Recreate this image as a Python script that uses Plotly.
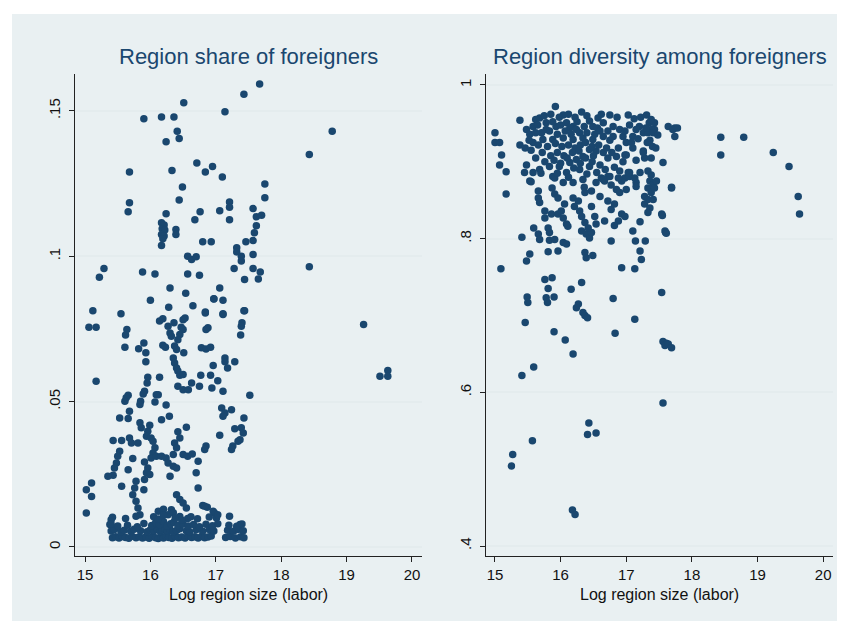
import plotly.graph_objects as go

# ---------------- data ----------------
x_ticks = [15, 16, 17, 18, 19, 20]
share_ticks = [0, 0.05, 0.1, 0.15]
share_tick_text = ["0", ".05", ".1", ".15"]
div_ticks = [0.4, 0.6, 0.8, 1.0]
div_tick_text = [".4", ".6", ".8", "1"]

title_left = "Region share of foreigners"
title_right = "Region diversity among foreigners"
x_title = "Log region size (labor)"

# Left panel: (log region size, share of foreigners)
share_points = [
    (16.51, 0.1528), (17.67, 0.1593), (17.43, 0.1557), (17.14, 0.1497), (15.90, 0.1473),
    (16.17, 0.1479), (16.36, 0.1479), (16.41, 0.1430), (16.44, 0.1405), (16.24, 0.1394),
    (16.71, 0.1321), (16.84, 0.1290), (16.95, 0.1309), (17.10, 0.1273), (15.68, 0.1290),
    (16.33, 0.1295), (16.49, 0.1238), (16.44, 0.1194), (15.68, 0.1184), (15.66, 0.1153),
    (16.24, 0.1146), (16.76, 0.1153), (16.68, 0.1126), (17.06, 0.1157), (17.21, 0.1187),
    (17.21, 0.1169), (17.21, 0.1126), (17.75, 0.1249), (17.75, 0.1201), (17.57, 0.1164),
    (17.62, 0.1136), (17.70, 0.1141), (17.62, 0.1105), (17.59, 0.1081), (17.57, 0.1054),
    (17.46, 0.1050), (16.17, 0.1115), (16.21, 0.1108), (16.18, 0.1095), (16.22, 0.1090),
    (16.17, 0.1075), (16.21, 0.1070), (16.19, 0.1060), (16.17, 0.1037), (16.39, 0.1092),
    (16.39, 0.1075), (16.80, 0.1050), (16.93, 0.1050), (17.32, 0.1029), (17.32, 0.1015),
    (17.39, 0.0984), (17.39, 0.1000), (17.57, 0.1006), (16.57, 0.1000), (16.63, 0.0989),
    (16.70, 0.0998), (17.28, 0.0958), (17.57, 0.0958), (17.65, 0.0922), (17.44, 0.0920),
    (15.29, 0.0958), (15.22, 0.0928), (15.88, 0.0946), (16.07, 0.0939), (16.57, 0.0939),
    (16.75, 0.0935), (16.30, 0.0891), (16.54, 0.0873), (17.06, 0.0891), (16.97, 0.0854),
    (17.11, 0.0849), (16.00, 0.0849), (15.12, 0.0813), (15.55, 0.0802), (16.28, 0.0825),
    (16.65, 0.0830), (16.84, 0.0808), (17.11, 0.0802), (17.44, 0.0813), (15.06, 0.0756),
    (15.17, 0.0756), (15.64, 0.0748), (15.62, 0.0729), (15.61, 0.0687), (15.82, 0.0682),
    (15.90, 0.0702), (15.93, 0.0668), (15.93, 0.0637), (16.14, 0.0777), (16.19, 0.0785),
    (16.27, 0.0759), (16.36, 0.0771), (16.30, 0.0736), (16.32, 0.0725), (16.50, 0.0782),
    (16.53, 0.0788), (16.47, 0.0756), (16.50, 0.0748), (16.45, 0.0731), (16.42, 0.0713),
    (16.19, 0.0694), (16.23, 0.0687), (16.37, 0.0691), (16.40, 0.0679), (16.51, 0.0668),
    (16.35, 0.0650), (16.37, 0.0633), (16.40, 0.0616), (16.42, 0.0605), (16.45, 0.0591),
    (16.50, 0.0593), (16.78, 0.0685), (16.85, 0.0681), (16.92, 0.0687), (16.88, 0.0754),
    (16.85, 0.0748), (16.84, 0.0805), (16.97, 0.0853), (17.11, 0.0800), (16.96, 0.0624),
    (17.14, 0.0650), (17.14, 0.0637), (17.18, 0.0616), (17.29, 0.0637), (17.43, 0.0813),
    (17.40, 0.0771), (17.39, 0.0759), (17.38, 0.0729), (15.17, 0.0570), (15.96, 0.0584),
    (16.14, 0.0584), (15.95, 0.0564), (15.91, 0.0536), (16.77, 0.0591), (16.92, 0.0591),
    (17.03, 0.0572), (16.75, 0.0553), (16.63, 0.0564), (16.42, 0.0553), (16.50, 0.0541),
    (16.58, 0.0541), (16.94, 0.0547), (17.11, 0.0536), (17.52, 0.0522), (15.66, 0.0522),
    (15.89, 0.0526), (16.12, 0.0524), (15.63, 0.0513), (15.61, 0.0501), (15.85, 0.0501),
    (15.84, 0.0490), (16.09, 0.0524), (16.07, 0.0499), (16.24, 0.0488), (15.68, 0.0467),
    (15.53, 0.0444), (15.66, 0.0442), (16.17, 0.0438), (16.29, 0.0450), (15.84, 0.0427),
    (15.86, 0.0410), (15.99, 0.0419), (15.96, 0.0398), (15.94, 0.0381), (16.01, 0.0375),
    (16.04, 0.0364), (15.43, 0.0366), (15.56, 0.0366), (15.68, 0.0375), (15.71, 0.0358),
    (15.81, 0.0358), (16.55, 0.0412), (16.42, 0.0396), (16.45, 0.0375), (16.37, 0.0358),
    (16.40, 0.0341), (16.35, 0.0318), (16.07, 0.0341), (16.04, 0.0323), (16.01, 0.0306),
    (16.09, 0.0312), (15.53, 0.0329), (15.50, 0.0312), (15.48, 0.0289), (15.45, 0.0272),
    (15.43, 0.0247), (15.35, 0.0243), (15.73, 0.0304), (15.66, 0.0266), (15.91, 0.0292),
    (15.96, 0.0272), (15.94, 0.0255), (15.99, 0.0249), (15.91, 0.0232), (15.90, 0.0197),
    (16.17, 0.0312), (16.24, 0.0306), (16.27, 0.0289), (16.35, 0.0278), (16.40, 0.0272),
    (16.30, 0.0243), (16.50, 0.0318), (16.57, 0.0312), (16.64, 0.0320), (16.73, 0.0295),
    (16.70, 0.0255), (16.73, 0.0203), (16.85, 0.0347), (16.83, 0.0335), (17.06, 0.0384),
    (17.09, 0.0478), (17.14, 0.0461), (17.24, 0.0472), (17.11, 0.0450), (17.43, 0.0444),
    (17.29, 0.0407), (17.39, 0.0410), (17.42, 0.0392), (17.37, 0.0369), (17.34, 0.0364),
    (17.26, 0.0347), (17.24, 0.0335), (15.10, 0.0220), (15.02, 0.0197), (15.10, 0.0174),
    (15.02, 0.0117), (15.56, 0.0209), (15.78, 0.0226), (15.76, 0.0203), (15.73, 0.0180),
    (15.78, 0.0157), (15.81, 0.0134), (15.84, 0.0111), (15.78, 0.0106), (16.40, 0.0180),
    (16.45, 0.0163), (16.50, 0.0151), (16.55, 0.0134), (16.80, 0.0143), (16.87, 0.0137),
    (16.98, 0.0117), (17.01, 0.0100), (16.32, 0.0128), (16.27, 0.0111), (17.21, 0.0106),
    (15.40, 0.0094), (15.38, 0.0077), (16.12, 0.0123), (16.20, 0.0130), (16.35, 0.0118),
    (16.45, 0.0105), (16.57, 0.0098), (16.83, 0.0140), (16.96, 0.0123), (17.03, 0.0111),
    (17.37, 0.0077), (17.32, 0.0060), (18.78, 0.1430), (18.43, 0.1350), (18.43, 0.0964),
    (17.68, 0.0946), (19.26, 0.0765), (19.51, 0.0587), (19.63, 0.0607), (19.63, 0.0587),
    # dense band of small shares
    (15.42, 0.0032), (15.47, 0.0035), (15.52, 0.0031), (15.57, 0.0036), (15.62, 0.0033),
    (15.67, 0.0030), (15.72, 0.0037), (15.78, 0.0032), (15.83, 0.0035), (15.88, 0.0031),
    (15.93, 0.0034), (15.98, 0.0030), (16.03, 0.0036), (16.08, 0.0032), (16.12, 0.0029),
    (16.16, 0.0035), (16.20, 0.0031), (16.24, 0.0038), (16.28, 0.0033), (16.33, 0.0030),
    (16.38, 0.0036), (16.43, 0.0032), (16.48, 0.0034), (16.53, 0.0031), (16.58, 0.0037),
    (16.63, 0.0033), (16.68, 0.0035), (16.73, 0.0031), (16.78, 0.0036), (16.83, 0.0032),
    (16.88, 0.0034), (16.93, 0.0038), (17.15, 0.0033), (17.22, 0.0036), (17.30, 0.0031),
    (17.38, 0.0035), (17.43, 0.0032),
    (15.40, 0.0055), (15.45, 0.0060), (15.55, 0.0052), (15.60, 0.0058), (15.70, 0.0054),
    (15.75, 0.0061), (15.85, 0.0056), (15.95, 0.0052), (16.00, 0.0059), (16.05, 0.0055),
    (16.10, 0.0062), (16.15, 0.0053), (16.18, 0.0058), (16.22, 0.0064), (16.26, 0.0055),
    (16.30, 0.0060), (16.35, 0.0052), (16.40, 0.0057), (16.45, 0.0063), (16.55, 0.0056),
    (16.60, 0.0052), (16.70, 0.0059), (16.80, 0.0054), (16.90, 0.0060), (16.97, 0.0055),
    (17.18, 0.0058), (17.27, 0.0054), (17.35, 0.0061), (17.42, 0.0056),
    (15.40, 0.0078), (15.50, 0.0072), (15.65, 0.0075), (15.80, 0.0070), (15.90, 0.0081),
    (16.02, 0.0074), (16.08, 0.0083), (16.14, 0.0077), (16.20, 0.0088), (16.25, 0.0072),
    (16.31, 0.0080), (16.36, 0.0086), (16.42, 0.0074), (16.50, 0.0079), (16.58, 0.0072),
    (16.66, 0.0077), (16.75, 0.0070), (16.85, 0.0078), (16.95, 0.0073), (17.03, 0.0080),
    (17.20, 0.0075), (17.32, 0.0071), (17.40, 0.0079),
    (15.42, 0.0102), (15.62, 0.0098), (16.05, 0.0104), (16.12, 0.0096), (16.20, 0.0110),
    (16.38, 0.0100), (16.48, 0.0092), (16.62, 0.0104), (16.72, 0.0097), (16.90, 0.0103),
]

# Right panel: (log region size, diversity among foreigners)
div_points = [
    (15.92, 0.972), (15.38, 0.954), (15.00, 0.938), (15.00, 0.925), (15.07, 0.925),
    (15.10, 0.909), (15.07, 0.896), (15.17, 0.887), (15.17, 0.858), (15.41, 0.802),
    (15.09, 0.761), (15.53, 0.780), (15.48, 0.771), (15.76, 0.747), (15.87, 0.749),
    (15.81, 0.735), (15.49, 0.724), (15.50, 0.717), (15.78, 0.723), (15.90, 0.724),
    (15.80, 0.717), (16.16, 0.734), (16.32, 0.743), (16.27, 0.715), (16.34, 0.704),
    (16.37, 0.700), (16.80, 0.722), (16.93, 0.762), (17.13, 0.761), (17.54, 0.730),
    (17.54, 0.832), (17.60, 0.808), (17.56, 0.899), (15.81, 0.783), (15.96, 0.784),
    (16.04, 0.795), (16.09, 0.793), (15.83, 0.798), (15.91, 0.799), (15.81, 0.814),
    (15.83, 0.808), (15.59, 0.814), (15.66, 0.806), (15.68, 0.799), (16.37, 0.782),
    (16.39, 0.775), (16.49, 0.778), (16.77, 0.797), (17.10, 0.810), (17.14, 0.797),
    (17.21, 0.784), (17.23, 0.773), (17.29, 0.797), (17.21, 0.822), (15.66, 0.862),
    (15.66, 0.853), (15.68, 0.847), (15.76, 0.836), (15.76, 0.827), (15.86, 0.832),
    (15.96, 0.832), (16.01, 0.836), (16.06, 0.845), (16.04, 0.827), (16.09, 0.819),
    (16.11, 0.816), (15.87, 0.866), (15.91, 0.858), (15.96, 0.853), (16.19, 0.853),
    (16.27, 0.849), (16.21, 0.842), (16.29, 0.836), (16.32, 0.829), (16.37, 0.821),
    (16.32, 0.810), (16.39, 0.806), (16.44, 0.801), (16.47, 0.808), (16.42, 0.814),
    (16.54, 0.819), (16.52, 0.829), (16.47, 0.842), (16.37, 0.860), (16.47, 0.862),
    (16.36, 0.867), (16.60, 0.855), (16.72, 0.849), (16.77, 0.838), (16.82, 0.845),
    (16.93, 0.832), (16.98, 0.829), (16.88, 0.823), (16.82, 0.817), (16.67, 0.823),
    (17.33, 0.888), (17.38, 0.883), (17.36, 0.875), (17.41, 0.870), (17.33, 0.866),
    (17.38, 0.860), (17.28, 0.855), (17.33, 0.851), (17.28, 0.845), (17.36, 0.840),
    (17.33, 0.834), (17.43, 0.866), (17.46, 0.875), (17.41, 0.851), (17.15, 0.873),
    (17.15, 0.868), (16.98, 0.879), (16.93, 0.875), (16.88, 0.879), (17.03, 0.886),
    (17.05, 0.881), (16.85, 0.907), (16.98, 0.909), (17.10, 0.918), (17.26, 0.914),
    (17.28, 0.905), (16.77, 0.870), (16.67, 0.875), (16.62, 0.879), (16.72, 0.881),
    (16.32, 0.965), (16.04, 0.961), (16.57, 0.957), (16.75, 0.961), (17.03, 0.961),
    (17.31, 0.961), (15.68, 0.957), (15.78, 0.951), (15.48, 0.942), (15.58, 0.946),
    (15.71, 0.938), (15.53, 0.936), (15.83, 0.940), (15.93, 0.946), (16.09, 0.951),
    (16.19, 0.946), (16.29, 0.938), (16.44, 0.953), (16.49, 0.946), (16.65, 0.951),
    (16.80, 0.946), (16.90, 0.942), (17.05, 0.948), (17.20, 0.946), (17.35, 0.951),
    (17.43, 0.942), (17.26, 0.938), (17.10, 0.933), (16.95, 0.933), (16.80, 0.933),
    (16.65, 0.933), (16.49, 0.929), (16.34, 0.931), (16.19, 0.929), (16.04, 0.931),
    (15.88, 0.929), (15.73, 0.929), (15.58, 0.925), (15.38, 0.922), (15.46, 0.918),
    (17.74, 0.944), (17.64, 0.946), (17.69, 0.866), (17.00, 0.909), (17.26, 0.912),
    (17.21, 0.886), (17.05, 0.886), (16.90, 0.888), (16.65, 0.912), (16.54, 0.914),
    (16.44, 0.916), (16.34, 0.907), (16.24, 0.903), (16.14, 0.899), (15.98, 0.894),
    (15.83, 0.894), (15.68, 0.890), (15.58, 0.886), (15.53, 0.875), (15.88, 0.881),
    (16.09, 0.886), (16.29, 0.890), (16.44, 0.894), (16.60, 0.896), (16.75, 0.881),
    (16.65, 0.877), (16.54, 0.873), (16.34, 0.877), (16.19, 0.873), (16.04, 0.873),
    (15.91, 0.879), (15.48, 0.896), (15.45, 0.886), (15.55, 0.874), (16.85, 0.864),
    (16.90, 0.860), (17.00, 0.864), (17.13, 0.879), (15.46, 0.691), (15.90, 0.679),
    (16.07, 0.668), (16.19, 0.650), (15.59, 0.633), (15.41, 0.622), (16.41, 0.697),
    (16.24, 0.710), (16.83, 0.677), (17.13, 0.695), (17.56, 0.666), (17.61, 0.664),
    (17.59, 0.661), (17.64, 0.663), (17.69, 0.658), (17.56, 0.586), (16.43, 0.560),
    (16.41, 0.545), (16.54, 0.547), (15.57, 0.537), (15.27, 0.519), (15.25, 0.504),
    (16.18, 0.447), (16.22, 0.441), (17.43, 0.951), (17.38, 0.942), (17.33, 0.938),
    (17.41, 0.938), (17.71, 0.942), (17.78, 0.944), (17.74, 0.933), (18.44, 0.932),
    (18.79, 0.932), (18.44, 0.909), (19.24, 0.912), (19.48, 0.894), (19.62, 0.855),
    (19.64, 0.832), (17.55, 0.830), (17.59, 0.810), (17.61, 0.807), (17.69, 0.867),
    # dense core of the cloud
    (15.62, 0.955), (15.75, 0.960), (15.85, 0.962), (15.98, 0.958), (16.12, 0.962),
    (16.22, 0.958), (16.40, 0.960), (16.62, 0.962), (16.86, 0.958), (17.12, 0.956),
    (17.22, 0.958), (17.38, 0.955), (15.65, 0.948), (15.88, 0.952), (16.00, 0.948),
    (16.14, 0.944), (16.25, 0.952), (16.36, 0.946), (16.56, 0.944), (16.72, 0.940),
    (16.98, 0.940), (17.15, 0.942), (17.30, 0.944), (15.62, 0.938), (15.78, 0.942),
    (15.95, 0.936), (16.07, 0.940), (16.16, 0.936), (16.24, 0.942), (16.40, 0.938),
    (16.52, 0.936), (16.60, 0.940), (16.75, 0.928), (17.00, 0.925), (17.18, 0.930),
    (17.36, 0.928), (15.66, 0.922), (15.80, 0.920), (15.92, 0.924), (16.02, 0.920),
    (16.12, 0.922), (16.22, 0.918), (16.30, 0.922), (16.38, 0.925), (16.48, 0.920),
    (16.58, 0.922), (16.70, 0.918), (16.88, 0.918), (17.08, 0.925), (17.40, 0.920),
    (15.72, 0.912), (15.85, 0.908), (15.95, 0.912), (16.05, 0.908), (16.18, 0.912),
    (16.28, 0.914), (16.38, 0.905), (16.50, 0.908), (16.72, 0.905), (16.95, 0.900),
    (17.15, 0.902), (15.76, 0.900), (15.90, 0.902), (16.00, 0.898), (16.10, 0.905),
    (16.20, 0.892), (16.30, 0.898), (16.48, 0.900), (16.55, 0.886), (16.68, 0.890),
    (16.82, 0.893), (17.38, 0.905), (17.45, 0.918), (15.62, 0.905), (15.55, 0.915),
    (15.52, 0.928), (15.70, 0.885), (15.95, 0.885), (16.12, 0.880), (16.40, 0.884),
    (16.78, 0.912), (17.32, 0.925), (17.48, 0.935),
]

share_x = [p[0] for p in share_points]
share_y = [p[1] for p in share_points]
div_x = [p[0] for p in div_points]
div_y = [p[1] for p in div_points]

# ---------------- styling ----------------
W, H = 845, 621
NAVY = "#1a476f"
BG = "#e9f0f2"
GRID = "#e4ecee"
FONT = "Liberation Sans, Arial, sans-serif"
TICKFONT = dict(family=FONT, size=15, color="#111111")


def px_x(p):
    return p / W


def px_y(p):
    return 1 - p / H


fig = go.Figure()
fig.add_trace(go.Scatter(x=share_x, y=share_y, mode="markers", xaxis="x", yaxis="y",
                         marker=dict(size=7.5, color=NAVY, line=dict(width=0)),
                         showlegend=False, hoverinfo="x+y"))
fig.add_trace(go.Scatter(x=div_x, y=div_y, mode="markers", xaxis="x2", yaxis="y2",
                         marker=dict(size=7.5, color=NAVY, line=dict(width=0)),
                         showlegend=False, hoverinfo="x+y"))

common_x = dict(tickmode="array", tickvals=x_ticks, ticktext=[str(t) for t in x_ticks],
                ticks="outside", ticklen=5, tickwidth=1, tickcolor="#222222",
                showline=True, linecolor="#222222", linewidth=1.3,
                showgrid=False, zeroline=False, tickfont=TICKFONT, ticklabelstandoff=0)
common_y = dict(tickmode="array", ticks="outside", ticklen=5, tickwidth=1, tickcolor="#222222",
                showline=True, linecolor="#222222", linewidth=1.3,
                showgrid=True, gridcolor=GRID, gridwidth=1.5, zeroline=False,
                tickangle=-90, tickfont=TICKFONT, ticklabelstandoff=3)

fig.update_layout(
    width=W, height=H,
    margin=dict(l=0, r=0, t=0, b=0),
    paper_bgcolor="white",
    plot_bgcolor="white",
    xaxis=dict(domain=[px_x(67), px_x(414)], range=[14.847, 20.153], anchor="y", **common_x),
    yaxis=dict(domain=[px_y(548), px_y(66)], range=[-0.0031, 0.1627], anchor="x",
               tickvals=share_ticks, ticktext=share_tick_text, **common_y),
    xaxis2=dict(domain=[px_x(478), px_x(825)], range=[14.863, 20.15], anchor="y2", **common_x),
    yaxis2=dict(domain=[px_y(548), px_y(66)], range=[0.387, 1.0143], anchor="x2",
                tickvals=div_ticks, ticktext=div_tick_text, **common_y),
    shapes=[dict(type="rect", xref="paper", yref="paper",
                 x0=px_x(4), x1=1.0, y0=0.0, y1=px_y(6),
                 fillcolor=BG, line=dict(width=0), layer="below")],
    annotations=[
        dict(text=title_left, x=px_x(240.5), y=px_y(48), xref="paper", yref="paper",
             showarrow=False, xanchor="center", yanchor="middle",
             font=dict(family=FONT, size=22, color=NAVY)),
        dict(text=title_right, x=px_x(651.5), y=px_y(48), xref="paper", yref="paper",
             showarrow=False, xanchor="center", yanchor="middle",
             font=dict(family=FONT, size=22, color=NAVY)),
        dict(text=x_title, x=px_x(240.5), y=px_y(586), xref="paper", yref="paper",
             showarrow=False, xanchor="center", yanchor="middle",
             font=dict(family=FONT, size=16, color="#111111")),
        dict(text=x_title, x=px_x(651.5), y=px_y(586), xref="paper", yref="paper",
             showarrow=False, xanchor="center", yanchor="middle",
             font=dict(family=FONT, size=16, color="#111111")),
    ],
)

fig.write_html("out.html")
